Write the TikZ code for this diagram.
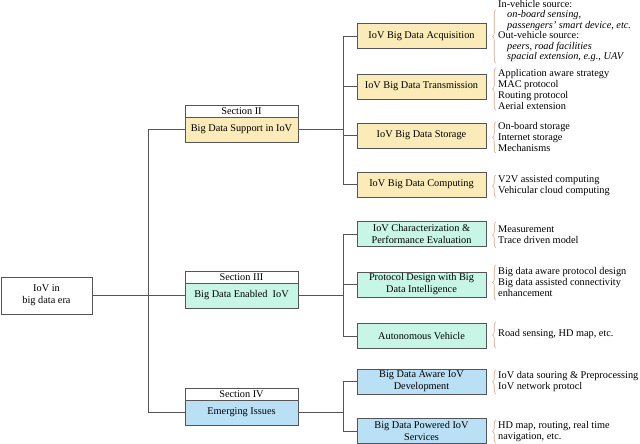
\documentclass[tikz,border=0pt]{standalone}
\usepackage{fontspec}
\setmainfont{Liberation Serif}
\usetikzlibrary{decorations.pathreplacing}
\definecolor{boxyellow}{RGB}{251,235,184}
\definecolor{boxgreen}{RGB}{200,246,230}
\definecolor{boxblue}{RGB}{185,224,245}
\definecolor{bracecol}{RGB}{215,165,135}
\definecolor{linecol}{RGB}{85,85,85}
\begin{document}
\begin{tikzpicture}[x=1pt,y=-1pt,
  box/.style={draw=linecol,line width=0.6pt,inner sep=0pt,align=center,font=\fontsize{10.3}{12}\selectfont},
  secbody/.style={box,minimum width=113pt,minimum height=25pt},
  sechead/.style={box,fill=white,minimum width=113pt,minimum height=12pt},
  childbox/.style={box,minimum width=129pt,minimum height=25pt},
  conn/.style={draw=linecol,line width=0.7pt},
  brc/.style={draw=bracecol,line width=0.6pt,decorate,decoration={brace,amplitude=3.5pt}},
  side/.style={anchor=west,align=left,inner sep=0pt,font=\fontsize{10.3}{11}\selectfont}]
\useasboundingbox (0,0) rectangle (640,444);

% root
\node[box,minimum width=91pt,minimum height=37pt] (root) at (46.5,295.5) {IoV in\\big data era};

% sections
\node[sechead] (s2h) at (241.5,111) {Section II};
\node[secbody,fill=boxyellow] (s2) at (241.5,129.5) {Big Data Support in IoV};
\node[sechead] (s3h) at (241.5,277) {Section III};
\node[secbody,fill=boxgreen] (s3) at (241.5,295.5) {Big Data Enabled\ \ IoV};
\node[sechead] (s4h) at (241.5,394) {Section IV};
\node[secbody,fill=boxblue] (s4) at (241.5,412.5) {Emerging Issues};

% children
\node[childbox,fill=boxyellow] (acq) at (421.5,36) {IoV Big Data Acquisition};
\node[childbox,fill=boxyellow] (trans) at (421.5,86.5) {IoV Big Data Transmission};
\node[childbox,fill=boxyellow] (stor) at (421.5,135.5) {IoV Big Data Storage};
\node[childbox,fill=boxyellow] (comp) at (421.5,184.5) {IoV Big Data Computing};

\node[childbox,fill=boxgreen] (char) at (421.5,234) {IoV Characterization \&\\Performance Evaluation};
\node[childbox,fill=boxgreen] (prot) at (421.5,284.5) {Protocol Design with Big\\Data Intelligence};
\node[childbox,fill=boxgreen] (auto) at (421.5,336) {Autonomous Vehicle};

\node[childbox,fill=boxblue] (aware) at (421.5,381.5) {Big Data Aware IoV\\Development};
\node[childbox,fill=boxblue] (power) at (421.5,431) {Big Data Powered IoV\\Services};

% trunk coordinates
\coordinate (t1) at (148,0);
\coordinate (t2) at (343,0);

% connectors level 1
\draw[conn] (root.east) -- (s3.west);
\draw[conn] (s2.west) -- (s2.west -| t1) -- (s4.west -| t1) -- (s4.west);

% section II
\draw[conn] (s2.east) -- (s2.east -| t2);
\draw[conn] (acq.west) -- (acq.west -| t2) -- (comp.west -| t2) -- (comp.west);
\draw[conn] (trans.west -| t2) -- (trans.west);
\draw[conn] (stor.west -| t2) -- (stor.west);

% section III
\draw[conn] (s3.east) -- (s3.east -| t2);
\draw[conn] (char.west) -- (char.west -| t2) -- (auto.west -| t2) -- (auto.west);
\draw[conn] (prot.west -| t2) -- (prot.west);

% section IV
\draw[conn] (s4.east) -- (s4.east -| t2);
\draw[conn] (aware.west) -- (aware.west -| t2) -- (power.west -| t2) -- (power.west);

% braces
\draw[brc] (496,63) -- (496,10);
\draw[brc] (496,110) -- (496,68);
\draw[brc] (496,153) -- (496,122);
\draw[brc] (496,197) -- (496,175);
\draw[brc] (496,248) -- (496,222);
\draw[brc] (496,300) -- (496,265);
\draw[brc] (496,348) -- (496,322);
\draw[brc] (496,394) -- (496,370);
\draw[brc] (496,443) -- (496,420);

% side texts
\node[side,font=\fontsize{10.3}{10.4}\selectfont] (acqt) at (498,31) {In-vehicle source:\\
\hspace*{9pt}\textit{on-board sensing,}\\
\hspace*{9pt}\textit{passengers' smart device, etc.}\\
Out-vehicle source:\\
\hspace*{9pt}\textit{peers, road facilities}\\
\hspace*{9pt}\textit{spacial extension, e.g., UAV}};
\node[side] (transt) at (498,89.5) {Application aware strategy\\MAC protocol\\Routing protocol\\Aerial extension};
\node[side] (stort) at (498,137) {On-board storage\\Internet storage\\Mechanisms};
\node[side] (compt) at (498,186) {V2V assisted computing\\Vehicular cloud computing};
\node[side] (chart) at (498,235) {Measurement\\Trace driven model};
\node[side] (prott) at (498,282) {Big data aware protocol design\\Big data assisted connectivity\\enhancement};
\node[side] (autot) at (498,334.5) {Road sensing, HD map, etc.};
\node[side] (awaret) at (498,382) {IoV data souring \& Preprocessing\\IoV network protocl};
\node[side] (powert) at (498,432) {HD map, routing, real time\\navigation, etc.};
\end{tikzpicture}
\end{document}
